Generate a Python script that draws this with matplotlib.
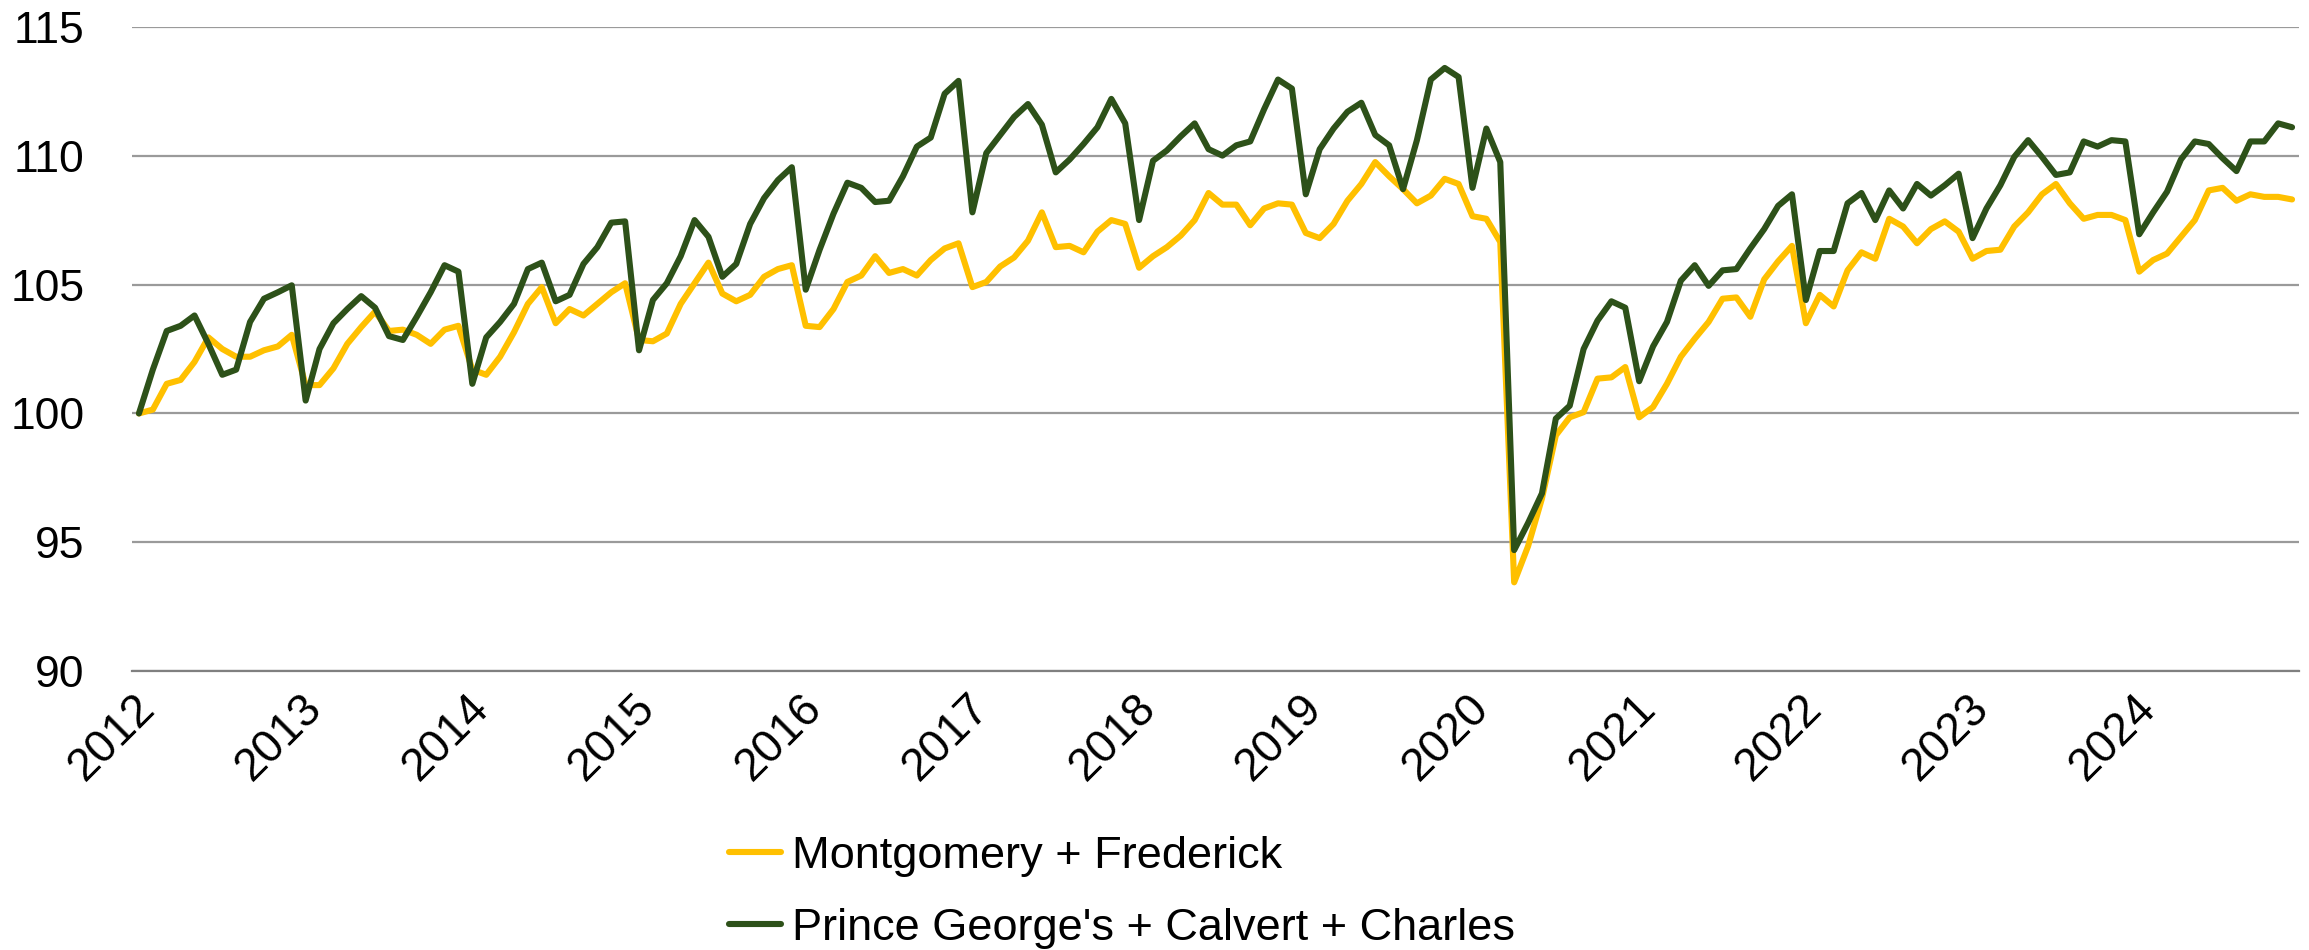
import numpy as np
import matplotlib
matplotlib.use("Agg")
import matplotlib.pyplot as plt

# monthly index, Jan 2012 = 100, Jan 2012 .. Dec 2024
years = list(range(2012, 2025))

montgomery_frederick = [
    100.0, 100.15, 101.15, 101.3, 102.0, 102.95, 102.5, 102.2, 102.2, 102.45, 102.6, 103.05,
    101.1, 101.1, 101.75, 102.7, 103.35, 103.95, 103.2, 103.25, 103.05, 102.7, 103.25, 103.4,
    101.7, 101.5, 102.2, 103.15, 104.25, 104.9, 103.5, 104.05, 103.8, 104.25, 104.7, 105.05,
    102.85, 102.8, 103.1, 104.25, 105.05, 105.85, 104.65, 104.35, 104.6, 105.3, 105.6, 105.75,
    103.4, 103.35, 104.05, 105.1, 105.35, 106.1, 105.45, 105.6, 105.35, 105.95, 106.4, 106.6,
    104.9, 105.1, 105.7, 106.05, 106.7, 107.8, 106.45, 106.5, 106.25, 107.05, 107.5, 107.35,
    105.65, 106.1, 106.45, 106.9, 107.5, 108.55, 108.1, 108.1, 107.3, 107.95, 108.15, 108.1,
    107.0, 106.8, 107.35, 108.25, 108.9, 109.75, 109.2, 108.7, 108.15, 108.45, 109.1, 108.9,
    107.65, 107.55, 106.65, 93.45, 94.85, 96.7, 99.15, 99.85, 100.05, 101.35, 101.4, 101.8,
    99.85, 100.25, 101.15, 102.2, 102.9, 103.55, 104.45, 104.5, 103.75, 105.2, 105.9, 106.5,
    103.5, 104.6, 104.15, 105.55, 106.25, 106.0, 107.55, 107.25, 106.6, 107.15, 107.45, 107.05,
    106.0, 106.3, 106.35, 107.25, 107.8, 108.5, 108.9, 108.15, 107.55, 107.7, 107.7, 107.5,
    105.5, 105.95, 106.2, 106.85, 107.5, 108.65, 108.75, 108.25, 108.5, 108.4, 108.4, 108.3,
]

pg_calvert_charles = [
    100.0, 101.7, 103.2, 103.4, 103.8, 102.7, 101.5, 101.7, 103.55, 104.45, 104.7, 104.97,
    100.5, 102.5, 103.5, 104.05, 104.55, 104.1, 103.0, 102.85, 103.75, 104.7, 105.75, 105.5,
    101.15, 102.95, 103.55, 104.25, 105.6, 105.85, 104.35, 104.6, 105.8, 106.45, 107.4, 107.45,
    102.45, 104.4, 105.05, 106.1, 107.5, 106.85, 105.3, 105.8, 107.35, 108.35, 109.05, 109.55,
    104.8, 106.35, 107.75, 108.95, 108.75, 108.2, 108.25, 109.2, 110.35, 110.7, 112.4, 112.9,
    107.8, 110.1, 110.8, 111.5, 112.0, 111.2, 109.35, 109.85, 110.45, 111.1, 112.2, 111.25,
    107.5, 109.8, 110.2, 110.75, 111.25, 110.25, 110.0, 110.4, 110.55, 111.8, 112.95, 112.6,
    108.5, 110.25, 111.05, 111.7, 112.05, 110.8, 110.4, 108.7, 110.6, 112.95, 113.4, 113.05,
    108.75, 111.05, 109.75, 94.7, 95.75, 96.9, 99.8, 100.3, 102.5, 103.6, 104.35, 104.1,
    101.25, 102.6, 103.55, 105.15, 105.75, 104.95, 105.55, 105.6, 106.4, 107.15, 108.05, 108.5,
    104.4, 106.3, 106.3, 108.15, 108.55, 107.5, 108.65, 107.95, 108.9, 108.45, 108.85, 109.3,
    106.8, 107.95, 108.85, 109.95, 110.6, 109.95, 109.25, 109.35, 110.55, 110.35, 110.6, 110.55,
    106.95, 107.8, 108.6, 109.85, 110.55, 110.45, 109.9, 109.4, 110.55, 110.55, 111.25, 111.1,
]

labels = ["Montgomery + Frederick", "Prince George's + Calvert + Charles"]
colors = ["#FFC000", "#2D5119"]


def main():
    plt.rcParams["font.family"] = ["Liberation Sans", "DejaVu Sans"]
    fig = plt.figure(figsize=(23.09, 9.5), dpi=100)
    ax = fig.add_axes([132 / 2309, 1 - 671.3 / 950, (2299 - 132) / 2309, (671.3 - 26.7) / 950])

    months = np.arange(len(montgomery_frederick))
    ax.plot(months, montgomery_frederick, color=colors[0], lw=4.4, label=labels[0],
            solid_joinstyle="round", solid_capstyle="round")
    ax.plot(months, pg_calvert_charles, color=colors[1], lw=4.4, label=labels[1],
            solid_joinstyle="round", solid_capstyle="round")

    ax.set_xlim(-0.5, len(months) - 0.5)
    ax.set_ylim(90, 115)
    ax.set_yticks(range(90, 116, 5))
    ax.yaxis.grid(True, color="#9a9a9a", lw=1.6)
    ax.set_axisbelow(True)
    for side in ["left", "right", "top"]:
        ax.spines[side].set_visible(False)
    ax.spines["bottom"].set_color("#808080")
    ax.spines["bottom"].set_linewidth(1.6)

    ax.set_xticks(np.arange(len(years)) * 12 + 0.7)
    ax.set_xticklabels([str(y) for y in years], rotation=45, ha="right",
                       va="center", rotation_mode="anchor")
    ax.tick_params(axis="x", length=0, labelsize=33, pad=22)
    ax.tick_params(axis="y", length=0, labelsize=32, pad=34)

    fig.legend(loc="upper left", bbox_to_anchor=(729 / 2309, 1 - 836 / 950),
               frameon=False, borderpad=0, borderaxespad=0,
               handlelength=1.15, handletextpad=0.25, labelspacing=0.68,
               prop={"size": 32.5})

    fig.savefig("out.png", dpi=100)


if __name__ == "__main__":
    main()
